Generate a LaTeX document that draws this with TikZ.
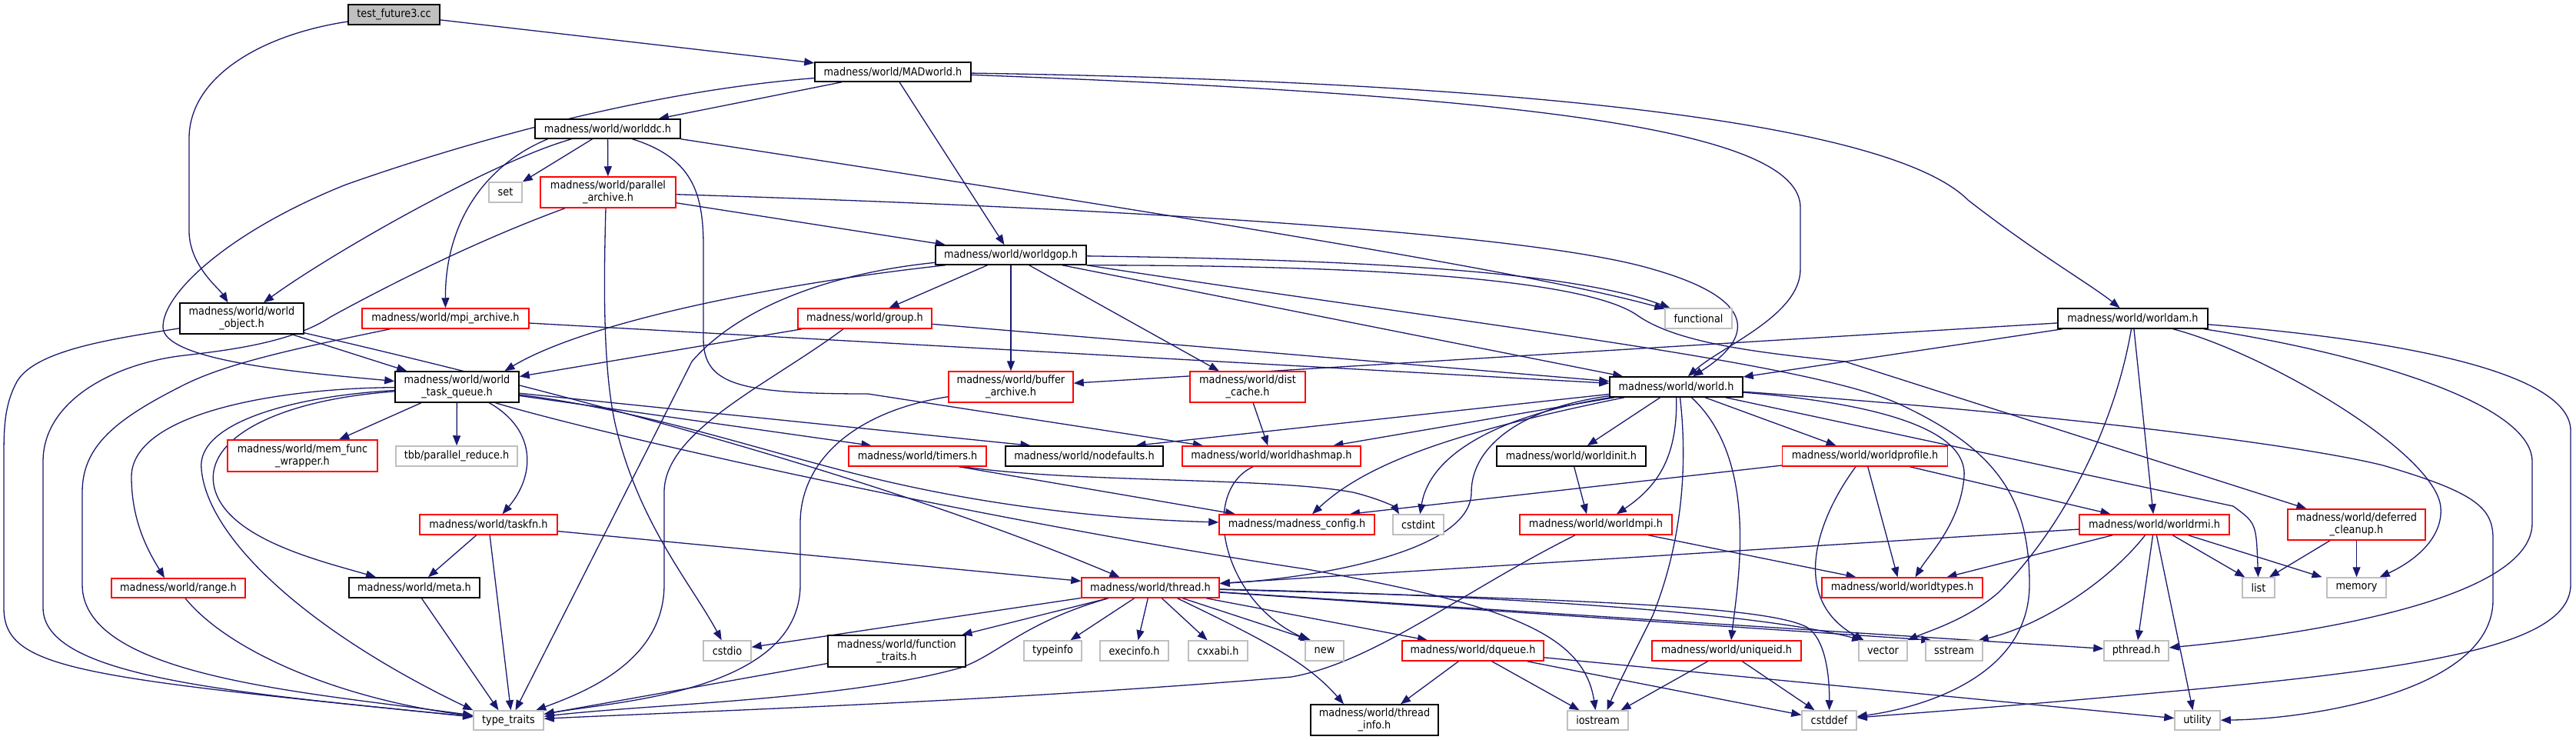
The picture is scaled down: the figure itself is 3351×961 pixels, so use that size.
\documentclass[tikz,border=0pt]{standalone}
\usepackage{fontspec}
\usetikzlibrary{arrows.meta}
\newfontfamily\lblfont{DejaVu Sans Condensed}
\definecolor{mblue}{HTML}{191970}
\definecolor{gbord}{HTML}{BFBFBF}
\definecolor{rbord}{HTML}{FF0000}
\pgfdeclarelayer{bg}
\pgfsetlayers{bg,main}
\tikzset{
  nb/.style={draw=black, fill=white, line width=1.5pt, inner sep=0pt, align=center,
             font={\lblfont\fontsize{14.3}{15.8}\selectfont}},
  nr/.style={nb, draw=rbord},
  ng/.style={nb, draw=gbord},
  sz/.style 2 args={minimum width=#1pt, minimum height=#2pt},
  dep/.style={draw=mblue, line width=1.3pt, -{Triangle[length=13pt,width=10pt]}}
}
\begin{document}
\begin{tikzpicture}[x=1pt,y=-1pt]
\useasboundingbox (0,0) rectangle (3351,961);
% nodes
\node[nb, fill=gbord, sz={119}{26}] (test) at (512.5,19) {test\_future3.cc};
\node[nb, sz={203}{25}] (mad) at (1161.5,93.5) {madness/world/MADworld.h};
\node[nb, sz={189}{25}] (dc) at (790.5,167.5) {madness/world/worlddc.h};
\node[ng, sz={43}{26}] (set) at (657.5,250) {set};
\node[nr, sz={176}{40}] (par) at (791,250) {madness/world/parallel\\\_archive.h};
\node[nb, sz={196}{25}] (gop) at (1315,331.5) {madness/world/worldgop.h};
\node[nb, sz={161}{40}] (wobj) at (314.5,414) {madness/world/world\\\_object.h};
\node[nr, sz={217}{26}] (mpi) at (579.5,414) {madness/world/mpi\_archive.h};
\node[nr, sz={174}{26}] (grp) at (1125,414) {madness/world/group.h};
\node[ng, sz={87}{26}] (func) at (2209.5,414) {functional};
\node[nb, sz={195}{26}] (am) at (2774.5,414) {madness/world/worldam.h};
\node[nb, sz={161}{40}] (wtq) at (594.5,503) {madness/world/world\\\_task\_queue.h};
\node[nr, sz={162}{40}] (buf) at (1315,503) {madness/world/buffer\\\_archive.h};
\node[nr, sz={150}{40}] (dist) at (1623,503) {madness/world/dist\\\_cache.h};
\node[nb, sz={173}{26}] (world) at (2180.5,503) {madness/world/world.h};
\node[nr, sz={195}{41}] (mfw) at (393.5,592.5) {madness/world/mem\_func\\\_wrapper.h};
\node[ng, sz={158}{26}] (tbb) at (594,593) {tbb/parallel\_reduce.h};
\node[nr, sz={179}{26}] (tim) at (1193.5,593) {madness/world/timers.h};
\node[nb, sz={205}{26}] (nodef) at (1410.5,593) {madness/world/nodefaults.h};
\node[nr, sz={232}{26}] (hash) at (1654,593) {madness/world/worldhashmap.h};
\node[nb, sz={194}{26}] (init) at (2044,593) {madness/world/worldinit.h};
\node[nr, sz={215}{26}] (prof) at (2426,593) {madness/world/worldprofile.h};
\node[nr, sz={179}{26}] (taskfn) at (635.5,682) {madness/world/taskfn.h};
\node[nr, sz={202}{26}] (cfg) at (1687,682) {madness/madness\_config.h};
\node[ng, sz={66}{26}] (cstdint) at (1845,682) {cstdint};
\node[nr, sz={198}{26}] (mpih) at (2076,682) {madness/world/worldmpi.h};
\node[nr, sz={195}{26}] (rmi) at (2802.5,682) {madness/world/worldrmi.h};
\node[nr, sz={179}{40}] (defc) at (3065.5,682) {madness/world/deferred\\\_cleanup.h};
\node[nr, sz={174}{25}] (range) at (232,764.5) {madness/world/range.h};
\node[nb, sz={170}{26}] (meta) at (539,764) {madness/world/meta.h};
\node[nr, sz={179}{26}] (thr) at (1496.5,764) {madness/world/thread.h};
\node[nr, sz={209}{26}] (types) at (2474.5,764) {madness/world/worldtypes.h};
\node[ng, sz={42}{26}] (list) at (2938,764) {list};
\node[ng, sz={77}{26}] (mem) at (3065.5,764) {memory};
\node[ng, sz={62}{26}] (cstdio) at (946,846) {cstdio};
\node[nb, sz={179}{41}] (ftr) at (1166.5,846.5) {madness/world/function\\\_traits.h};
\node[ng, sz={75}{26}] (tinfo) at (1369.5,846) {typeinfo};
\node[ng, sz={89}{26}] (exec) at (1475.5,846) {execinfo.h};
\node[ng, sz={77}{26}] (cxx) at (1584.5,846) {cxxabi.h};
\node[ng, sz={50}{26}] (new) at (1723,846) {new};
\node[nr, sz={184}{26}] (dq) at (1916,846) {madness/world/dqueue.h};
\node[nr, sz={194}{26}] (uid) at (2246,846) {madness/world/uniqueid.h};
\node[ng, sz={63}{26}] (vec) at (2449.5,846) {vector};
\node[ng, sz={74}{26}] (sst) at (2542,846) {sstream};
\node[ng, sz={84}{26}] (pth) at (2779,846) {pthread.h};
\node[ng, sz={91}{25}] (tt) at (661.5,936.5) {type\_traits};
\node[nb, sz={166}{40}] (tinf) at (1788,936) {madness/world/thread\\\_info.h};
\node[ng, sz={79}{25}] (ios) at (2078.5,936.5) {iostream};
\node[ng, sz={71}{25}] (cdef) at (2379.5,936.5) {cstddef};
\node[ng, sz={59}{25}] (util) at (2858.5,936.5) {utility};
% edges
\begin{pgfonlayer}{bg}
\fill[white] (0,0) rectangle (3351,961);
% test
\draw[dep] (test) .. controls (340,45) and (246,100) .. (246,180) -- (246,300) .. controls (246,345) and (285,375) .. ([xshift=-18]wobj.north);
\draw[dep] (test) -- (mad);
% MADworld
\draw[dep] (mad) -- (dc);
\draw[dep] (mad) -- (gop);
\draw[dep] (mad) .. controls (850,118) and (620,180) .. (450,240) .. controls (300,300) and (212,380) .. (212,425) .. controls (212,470) and (400,485) .. (wtq);
\draw[dep] (mad) .. controls (2000,125) and (2342,170) .. (2342,270) -- (2342,350) .. controls (2342,410) and (2240,450) .. (world);
\draw[dep] (mad) .. controls (1900,105) and (2450,150) .. (2560,260) .. controls (2650,330) and (2720,370) .. (am);
% worlddc
\draw[dep] (dc) .. controls (640,210) and (430,330) .. (wobj);
\draw[dep] ([xshift=-78]dc.south) .. controls (630,215) and (579,290) .. (mpi);
\draw[dep] ([xshift=-20]dc.south) -- (set);
\draw[dep] (dc) -- (par);
\draw[dep] ([xshift=32]dc.south) .. controls (900,205) and (915,250) .. (915,320) -- (915,440) .. controls (915,500) and (960,512) .. (1129,512) -- (hash);
\draw[dep] (dc.south east) .. controls (1500,275) and (2000,355) .. (func);
% parallel_archive
\draw[dep] (par) -- (gop);
\draw[dep] ([xshift=-56]par.south) .. controls (600,320) and (470,390) .. (430,412) .. controls (380,445) and (300,455) .. (240,462) .. controls (150,472) and (56,520) .. (56,600) -- (56,790) .. controls (56,880) and (300,900) .. (tt);
\draw[dep] ([xshift=-3]par.south) .. controls (785,380) and (785,480) .. (800,550) .. controls (830,680) and (900,760) .. (cstdio);
\draw[dep] (par) .. controls (1500,272) and (2000,305) .. (2150,350) .. controls (2290,390) and (2280,440) .. (world);
% worldgop
\draw[dep] ([xshift=-85]gop.south) .. controls (1000,370) and (760,420) .. ([xshift=62]wtq.north);
\draw[dep] (gop) -- (grp);
\draw[dep] (gop) -- (buf);
\draw[dep] (gop) -- (dist);
\draw[dep] (gop) .. controls (1080,355) and (960,400) .. (900,470) -- ([xshift=9]tt.north);
\draw[dep] (gop) .. controls (1800,338) and (2050,355) .. (func);
\draw[dep] (gop.south east) .. controls (1900,345) and (2080,375) .. (2130,410) .. controls (2180,445) and (2280,458) .. (2400,470) -- (defc);
\draw[dep] (gop.south east) .. controls (1900,420) and (2350,470) .. (2470,525) .. controls (2600,585) and (2640,650) .. (2640,760) .. controls (2640,880) and (2500,920) .. (cdef);
\draw[dep] (gop) -- (world);
% world_object
\draw[dep] (wobj) -- (wtq);
\draw[dep] (wobj) .. controls (150,440) and (40,455) .. (20,500) .. controls (5,530) and (5,560) .. (5,600) -- (5,790) .. controls (5,870) and (100,880) .. (tt);
\draw[dep] (wobj) .. controls (600,480) and (1100,600) .. ([xshift=-40]thr.north);
% mpi_archive
\draw[dep] ([xshift=-72]mpi.south) .. controls (400,450) and (300,470) .. (240,500) .. controls (150,545) and (107,580) .. (107,640) -- (107,760) .. controls (107,880) and (400,900) .. (tt);
\draw[dep] (mpi) -- (world);
% group
\draw[dep] (grp) -- (wtq);
\draw[dep] ([xshift=-28]grp.south) .. controls (1000,500) and (864,560) .. (864,640) -- (864,760) .. controls (864,860) and (760,900) .. (tt);
\draw[dep] (grp) -- (world);
% worldam
\draw[dep] (am) -- (buf);
\draw[dep] (am) -- (world);
\draw[dep] ([xshift=-2]am.south) .. controls (2750,560) and (2680,690) .. (2600,770) .. controls (2560,805) and (2510,820) .. (vec);
\draw[dep] (am) -- (rmi);
\draw[dep] (am) .. controls (2950,460) and (3170,590) .. (3175,660) .. controls (3178,700) and (3140,730) .. (mem);
\draw[dep] (am) .. controls (3050,455) and (3294,520) .. (3294,600) -- (3294,680) .. controls (3294,780) and (3000,825) .. (pth);
\draw[dep] (am) .. controls (3100,440) and (3344,480) .. (3344,560) -- (3344,760) .. controls (3344,850) and (3100,875) .. (2700,910) .. controls (2550,923) and (2450,930) .. (cdef);
% world_task_queue
\draw[dep] (wtq) -- (mfw);
\draw[dep] (wtq) -- (tbb);
\draw[dep] ([xshift=42]wtq.south) .. controls (700,560) and (695,620) .. ([xshift=18]taskfn.north);
\draw[dep] (wtq) .. controls (350,505) and (171,540) .. (171,620) .. controls (171,680) and (195,720) .. ([xshift=-18]range.north);
\draw[dep] (wtq) .. controls (380,515) and (255,550) .. (262,610) .. controls (270,700) and (400,820) .. (tt.north west);
\draw[dep] (wtq) .. controls (360,520) and (268,570) .. (278,630) .. controls (290,700) and (420,730) .. ([xshift=-50]meta.north);
\draw[dep] (wtq) -- ([xshift=-70]nodef.north);
\draw[dep] (wtq) -- ([xshift=-60]tim.north);
\draw[dep] (wtq) .. controls (850,535) and (1000,590) .. (1150,625) .. controls (1300,660) and (1450,675) .. (cfg);
\draw[dep] ([xshift=50]wtq.south) .. controls (800,570) and (1300,680) .. (1700,740) .. controls (1950,785) and (2060,820) .. ([xshift=-3]ios.north);
% buffer, dist
\draw[dep] (buf) .. controls (1110,535) and (1041,600) .. (1041,680) -- (1041,760) .. controls (1041,900) and (800,912) .. (tt);
\draw[dep] (dist) -- (hash);
% world
\draw[dep] (world) -- (hash);
\draw[dep] (world) -- ([xshift=67]nodef.north);
\draw[dep] (world) .. controls (1900,560) and (1780,600) .. ([xshift=20]cfg.north);
\draw[dep] (world) .. controls (1950,540) and (1860,590) .. (cstdint);
\draw[dep] (world) .. controls (1980,530) and (1914,580) .. (1914,640) .. controls (1914,720) and (1700,752) .. (thr);
\draw[dep] (world) -- (init);
\draw[dep] (world) .. controls (2182,590) and (2160,630) .. ([xshift=27]mpih.north);
\draw[dep] ([xshift=5]world.south) .. controls (2195,600) and (2190,700) .. (2150,800) .. controls (2120,860) and (2100,900) .. ([xshift=12]ios.north);
\draw[dep] ([xshift=20]world.south) .. controls (2290,600) and (2260,760) .. ([xshift=6]uid.north);
\draw[dep] (world) -- (prof);
\draw[dep] (world) .. controls (2450,525) and (2560,560) .. (2555,620) .. controls (2550,680) and (2510,720) .. ([xshift=17]types.north);
\draw[dep] (world) -- (2905,658) .. controls (2935,680) .. (list);
\draw[dep] (world) .. controls (2700,540) and (3000,580) .. (3100,605) .. controls (3220,640) and (3243,660) .. (3243,700) -- (3243,780) .. controls (3243,900) and (3000,935) .. (util);
% timers, hashmap, init, profile
\draw[dep] ([xshift=54]tim.south) -- ([xshift=-80]cfg.north);
\draw[dep] ([xshift=60]tim.south) .. controls (1400,628) and (1650,620) .. (1760,640) .. controls (1800,650) and (1815,660) .. ([xshift=-25]cstdint.north);
\draw[dep] ([xshift=-24]hash.south) .. controls (1560,640) and (1590,780) .. ([xshift=5]new.north west);
\draw[dep] (init) -- ([xshift=-12]mpih.north);
\draw[dep] (prof) -- ([xshift=69]cfg.north);
\draw[dep] (prof) -- ([xshift=-6]types.north);
\draw[dep] (prof) -- ([xshift=-57]rmi.north);
\draw[dep] ([xshift=-12]prof.south) .. controls (2360,680) and (2330,780) .. ([xshift=-25]vec.north);
% taskfn, worldmpi
\draw[dep] (taskfn) -- ([xshift=18]meta.north);
\draw[dep] (taskfn) -- ([xshift=3]tt.north);
\draw[dep] (taskfn) -- (thr);
\draw[dep] (mpih) -- ([xshift=-60]types.north);
\draw[dep] ([xshift=-27]mpih.south) .. controls (1900,770) and (1790,860) .. (1680,880) .. controls (1300,912) and (900,925) .. (tt);
% worldrmi, deferred
\draw[dep] (rmi) -- (thr);
\draw[dep] (rmi) -- ([xshift=58]types.north);
\draw[dep] ([xshift=-12]rmi.south) .. controls (2740,760) and (2650,815) .. ([xshift=-6]sst.north east);
\draw[dep] (rmi) -- (pth);
\draw[dep] (rmi) -- ([xshift=-6]util.north);
\draw[dep] (rmi) -- ([xshift=4]list.north west);
\draw[dep] (rmi) -- ([xshift=-45]mem.north);
\draw[dep] (defc) -- ([xshift=14]list.north);
\draw[dep] (defc) -- (mem);
% range, meta
\draw[dep] ([xshift=9]range.south) .. controls (300,850) and (450,910) .. (tt);
\draw[dep] (meta) -- ([xshift=-13]tt.north);
% thread
\draw[dep] (thr) -- (cstdio);
\draw[dep] (thr) -- (ftr);
\draw[dep] ([xshift=-55]thr.south) .. controls (1330,810) and (1300,850) .. (1250,868) .. controls (1100,910) and (850,915) .. (tt);
\draw[dep] (thr) -- ([xshift=23]tinfo.north);
\draw[dep] (thr) -- ([xshift=5]exec.north);
\draw[dep] (thr) -- ([xshift=-14]cxx.north);
\draw[dep] (thr) -- ([xshift=-18]new.north);
\draw[dep] ([xshift=35]thr.south) .. controls (1640,830) and (1700,860) .. ([xshift=-40]tinf.north);
\draw[dep] (thr) -- ([xshift=-59]dq.north);
\draw[dep] (thr) .. controls (2000,775) and (2300,800) .. ([xshift=5]vec.north west);
\draw[dep] (thr) -- ([xshift=8]sst.north west);
\draw[dep] (thr) -- (pth);
\draw[dep] (thr) .. controls (2100,780) and (2300,790) .. (2350,815) .. controls (2375,830) and (2380,880) .. (cdef);
% function_traits, dqueue, uniqueid
\draw[dep] (ftr) -- (tt);
\draw[dep] (dq) -- ([xshift=34]tinf.north);
\draw[dep] (dq) -- ([xshift=-24]ios.north);
\draw[dep] (dq) -- (cdef);
\draw[dep] (dq) -- (util);
\draw[dep] (uid) -- ([xshift=30]ios.north);
\draw[dep] (uid) -- ([xshift=-19]cdef.north);
\end{pgfonlayer}
\end{tikzpicture}
\end{document}
